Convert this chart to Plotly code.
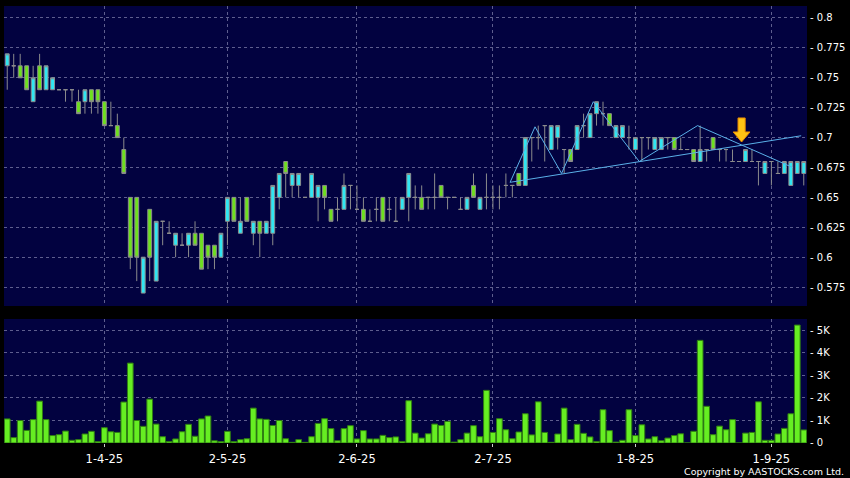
import pandas as pd
import plotly.graph_objects as go

# ---------------- data ----------------
holidays = ["2025-04-04", "2025-04-18", "2025-04-21", "2025-05-01", "2025-05-05", "2025-07-01"]
dates = [d.strftime("%Y-%m-%d") for d in pd.bdate_range("2025-03-11", "2025-09-08")
         if d.strftime("%Y-%m-%d") not in holidays]

opens = [.76, .76, .76, .76, .73, .76, .74, .74, .74, .74, .74, .73, .73, .74, .74, .73, .71, .71, .69, .65,
         .65, .57, .64, .58, .63, .62, .61, .61, .61, .62, .62, .61, .61, .60, .63, .65, .62, .65, .62, .63,
         .62, .62, .65, .68, .66, .66, .65, .65, .65, .66, .64, .64, .64, .66, .64, .64, .63, .64, .65, .64,
         .63, .64, .65, .65, .65, .65, .65, .66, .65, .65, .64, .64, .66, .64, .65, .65, .65, .66, .66, .67,
         .66, .70, .70, .71, .69, .70, .69, .69, .69, .71, .70, .72, .72, .72, .70, .70, .70, .69, .70, .70,
         .69, .69, .70, .70, .69, .69, .69, .68, .69, .70, .69, .69, .68, .68, .68, .68, .68, .67, .68, .67,
         .67, .66, .67, .67]
highs = [.77, .77, .77, .76, .76, .77, .76, .75, .74, .74, .74, .74, .74, .74, .74, .73, .73, .72, .70, .65,
         .65, .60, .64, .63, .63, .63, .62, .62, .62, .63, .62, .61, .61, .62, .65, .65, .65, .65, .63, .63,
         .63, .66, .67, .68, .67, .67, .65, .67, .66, .66, .64, .65, .67, .66, .66, .65, .64, .65, .65, .65,
         .65, .65, .67, .66, .66, .65, .67, .66, .65, .65, .65, .65, .67, .65, .67, .66, .66, .67, .66, .67,
         .70, .70, .71, .71, .71, .71, .69, .69, .71, .72, .72, .73, .73, .72, .71, .71, .71, .70, .70, .70,
         .70, .70, .70, .70, .70, .69, .69, .71, .69, .70, .69, .69, .69, .68, .69, .69, .68, .68, .68, .68,
         .68, .68, .68, .68]
lows = [.74, .75, .75, .74, .73, .74, .74, .74, .74, .73, .73, .72, .72, .72, .72, .71, .71, .70, .67, .59,
        .58, .57, .58, .58, .61, .62, .60, .61, .60, .61, .59, .59, .59, .60, .61, .63, .62, .63, .61, .60,
        .62, .61, .64, .65, .65, .65, .65, .65, .63, .64, .63, .63, .64, .64, .64, .63, .63, .63, .63, .63,
        .63, .64, .63, .64, .64, .64, .64, .65, .64, .65, .64, .64, .65, .64, .64, .64, .64, .65, .65, .66,
        .66, .68, .69, .68, .69, .69, .67, .68, .69, .70, .70, .71, .71, .71, .70, .70, .69, .69, .68, .69,
        .69, .69, .69, .69, .69, .69, .68, .68, .68, .69, .68, .68, .68, .68, .68, .68, .66, .67, .66, .67,
        .67, .66, .67, .66]
closes = [.77, .76, .75, .74, .75, .74, .76, .75, .74, .74, .74, .72, .74, .73, .73, .71, .71, .70, .67, .60,
          .60, .60, .60, .63, .63, .62, .62, .61, .62, .61, .59, .60, .60, .62, .65, .63, .63, .63, .63, .62,
          .63, .66, .67, .67, .67, .67, .65, .67, .66, .65, .63, .64, .66, .66, .64, .63, .63, .64, .63, .64,
          .63, .65, .67, .65, .64, .65, .65, .65, .65, .65, .64, .65, .65, .65, .65, .65, .65, .66, .66, .66,
          .70, .70, .70, .71, .71, .71, .69, .68, .71, .71, .72, .73, .72, .71, .71, .71, .70, .70, .70, .70,
          .70, .70, .70, .69, .69, .69, .68, .69, .69, .69, .69, .69, .68, .68, .69, .68, .68, .68, .68, .67,
          .68, .68, .68, .68]
volumes = [1070, 240, 1000, 560, 1040, 1860, 1040, 330, 370, 530, 120, 150, 400, 520, 60, 680, 500, 470, 1820, 3550,
           1000, 740, 1950, 840, 280, 70, 180, 500, 830, 300, 1070, 1200, 100, 60, 520, 60, 150, 190, 1550, 1070,
           1050, 780, 1000, 190, 30, 150, 30, 280, 870, 1080, 640, 100, 640, 770, 180, 550, 180, 180, 340, 240,
           270, 70, 1880, 440, 220, 410, 840, 780, 960, 40, 150, 440, 770, 280, 2340, 470, 1080, 590, 190, 490,
           1300, 360, 1830, 470, 30, 400, 1550, 150, 830, 430, 270, 70, 1480, 550, 40, 120, 1480, 330, 810, 180,
           280, 100, 220, 330, 410, 0, 520, 4560, 1630, 370, 750, 590, 1040, 0, 440, 470, 1830, 120, 120, 400,
           650, 1300, 5240, 580]

tick_dates = ["2025-04-01", "2025-05-02", "2025-06-02", "2025-07-02", "2025-08-01", "2025-09-01"]
tick_labels = ["1-4-25", "2-5-25", "2-6-25", "2-7-25", "1-8-25", "1-9-25"]
price_ticks = [0.575, 0.6, 0.625, 0.65, 0.675, 0.7, 0.725, 0.75, 0.775, 0.8]
price_tick_labels = ["- 0.575", "- 0.6", "- 0.625", "- 0.65", "- 0.675", "- 0.7", "- 0.725", "- 0.75", "- 0.775", "- 0.8"]
vol_ticks = [0, 1000, 2000, 3000, 4000, 5000]
vol_tick_labels = ["- 0", "- 1K", "- 2K", "- 3K", "- 4K", "- 5K"]

# analyst drawings (slot position, price)
zigzag_pos = [77.65, 81.5, 85.6, 90.5, 97.6, 106.6, 121.3]
zigzag_price = [0.6626, 0.709, 0.670, 0.730, 0.680, 0.710, 0.675]
support_pos = [77.65, 122.6]
support_price = [0.6626, 0.7015]
arrow_pos = 113.4
arrow_price = [0.7164, 0.7047, 0.6963]  # top, head start, tip

# ---------------- style ----------------
BG = "#000000"
PLOT_BG = "#020240"
GRID = "#5e5e8e"
CYAN = "#30e6f2"
GREEN = "#6ee01e"
WICK = "#8c8c8c"
VOL = "#66ee22"
LINE = "#5ab0e8"
FONT = "DejaVu Sans"

fig = go.Figure()
fig.add_trace(go.Candlestick(
    x=dates, open=opens, high=highs, low=lows, close=closes,
    increasing=dict(fillcolor=CYAN, line=dict(color=WICK, width=1)),
    decreasing=dict(fillcolor=GREEN, line=dict(color=WICK, width=1)),
    whiskerwidth=0, xaxis="x", yaxis="y", showlegend=False, hoverinfo="skip"))
fig.add_trace(go.Bar(
    x=dates, y=volumes, xaxis="x2", yaxis="y2", showlegend=False,
    marker=dict(color=VOL, line=dict(color="#2f7d12", width=1)), hoverinfo="skip"))

shapes = []
zz = "M " + " L ".join(f"{p},{v}" for p, v in zip(zigzag_pos, zigzag_price))
shapes.append(dict(type="path", xref="x", yref="y", path=zz, line=dict(color=LINE, width=1)))
shapes.append(dict(type="line", xref="x", yref="y", x0=support_pos[0], y0=support_price[0],
                   x1=support_pos[1], y1=support_price[1], line=dict(color=LINE, width=1)))
sw, hw = 0.55, 1.3
a_top, a_mid, a_tip = arrow_price
ap = (f"M {arrow_pos - sw},{a_top} L {arrow_pos + sw},{a_top} L {arrow_pos + sw},{a_mid} "
      f"L {arrow_pos + hw},{a_mid} L {arrow_pos},{a_tip} L {arrow_pos - hw},{a_mid} L {arrow_pos - sw},{a_mid} Z")
shapes.append(dict(type="path", xref="x", yref="y", path=ap, fillcolor="#ffc414",
                   line=dict(color="#e88a00", width=1)))

axis_common = dict(type="category", range=[-0.5, len(dates) - 0.5], tickvals=tick_dates,
                   showgrid=True, gridcolor=GRID, griddash="3px,3px", gridwidth=1,
                   showline=False, zeroline=False)

fig.update_layout(
    width=850, height=478,
    margin=dict(l=4, r=43, t=6, b=35, autoexpand=False),
    paper_bgcolor=BG, plot_bgcolor=PLOT_BG,
    font=dict(family=FONT, color="#ffffff", size=10),
    boxgap=0.15, bargap=0.12,
    shapes=shapes,
    xaxis=dict(**axis_common, anchor="y", domain=[0, 1], showticklabels=False,
               rangeslider=dict(visible=False)),
    yaxis=dict(domain=[0.3135, 1], side="right", range=[0.5592, 0.81], tickvals=price_ticks,
               ticktext=price_tick_labels, showgrid=True, gridcolor=GRID, griddash="3px,3px",
               zeroline=False, showline=False, ticks="", ticklabelstandoff=2,
               tickfont=dict(size=10, color="#ffffff", family=FONT)),
    xaxis2=dict(**axis_common, anchor="y2", domain=[0, 1], matches="x", ticktext=tick_labels,
                ticks="outside", ticklen=3, tickcolor="#cccccc", ticklabelstandoff=2,
                tickfont=dict(size=11.5, color="#ffffff", family=FONT)),
    yaxis2=dict(domain=[0, 0.2838], side="right", range=[0, 5510], tickvals=vol_ticks,
                ticktext=vol_tick_labels, showgrid=True, gridcolor=GRID, griddash="3px,3px",
                zeroline=False, showline=False, ticks="", ticklabelstandoff=2,
                tickfont=dict(size=10, color="#ffffff", family=FONT)),
    annotations=[dict(text="Copyright by AASTOCKS.com Ltd.", xref="paper", yref="paper",
                      x=1.048, y=-0.066, xanchor="right", yanchor="middle", showarrow=False,
                      font=dict(size=9.5, color="#ffffff", family=FONT))],
)

fig.write_html("out.html", config={"displayModeBar": False},
               post_script="document.body.style.margin='0px';document.body.style.padding='0px';")
